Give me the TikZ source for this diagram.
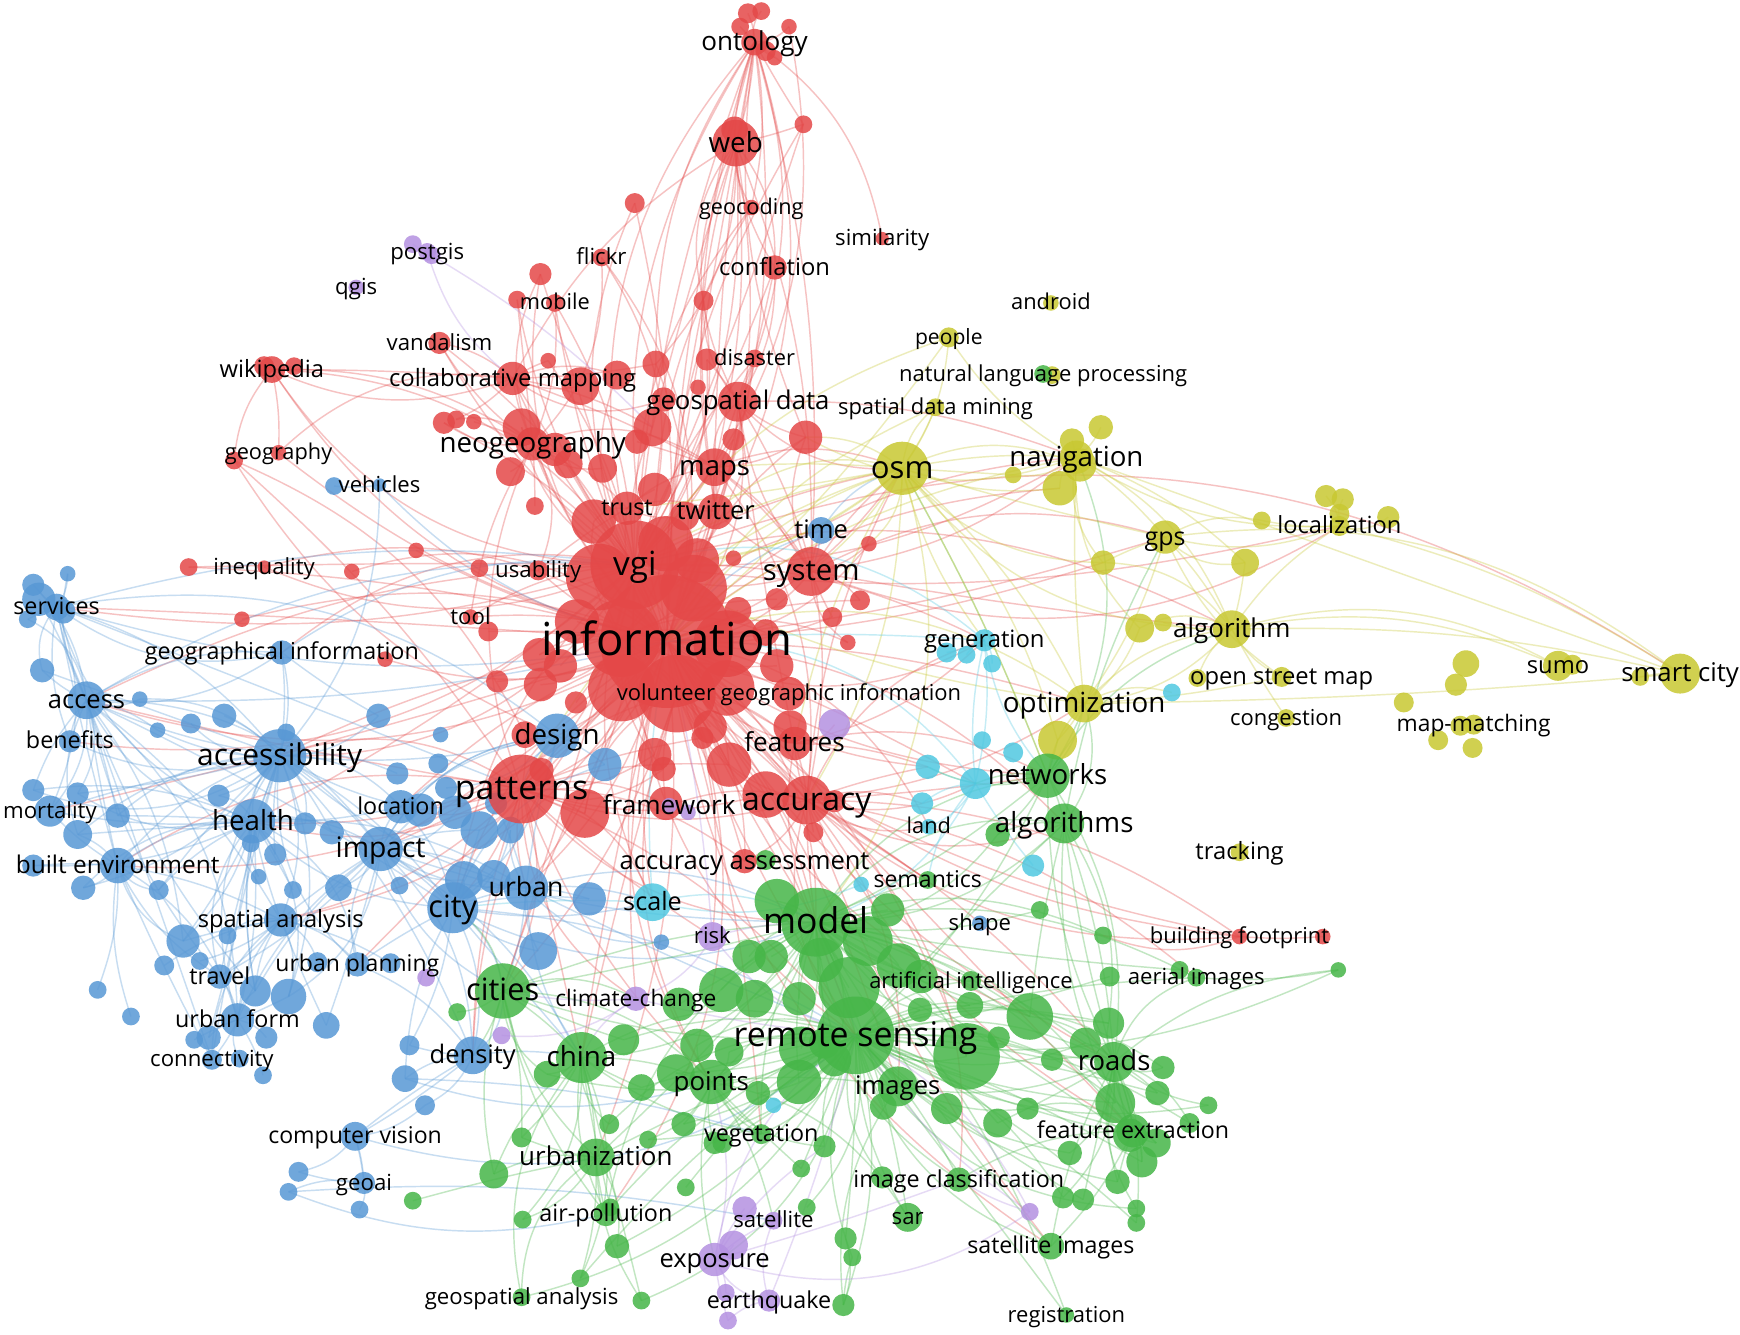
\documentclass[tikz,border=0pt]{standalone}
\usepackage{fontspec}
\setmainfont{Open Sans}
\definecolor{colR}{RGB}{228,72,72}
\definecolor{colB}{RGB}{88,152,213}
\definecolor{colG}{RGB}{70,182,72}
\definecolor{colY}{RGB}{200,200,50}
\definecolor{colP}{RGB}{180,145,225}
\definecolor{colC}{RGB}{80,200,225}
\pgfdeclarelayer{bg}\pgfdeclarelayer{edges}\pgfdeclarelayer{labels}
\pgfsetlayers{bg,edges,main,labels}
\tikzset{
 bub/.style={circle,inner sep=0pt,outer sep=0pt,draw=none,fill opacity=0.85},
 cR/.style={fill=colR}, cB/.style={fill=colB}, cG/.style={fill=colG},
 cY/.style={fill=colY}, cP/.style={fill=colP}, cC/.style={fill=colC},
 lab/.style={inner sep=0pt,outer sep=0pt,text=black},
 edg/.style={line width=1.3pt,draw opacity=0.33},
 eR/.style={edg,draw=colR}, eB/.style={edg,draw=colB}, eG/.style={edg,draw=colG},
 eY/.style={edg,draw=colY}, eP/.style={edg,draw=colP}, eC/.style={edg,draw=colC}
}
\newcommand\Kw[7]{\node[bub,#5,minimum size=#4pt] (#1) at (#2,#3) {};%
 \begin{pgfonlayer}{labels}\node[lab,font=\fontsize{#6}{#6}\selectfont,text height={0.72*#6pt},text depth={0.24*#6pt},yshift={-0.08*#6pt}] (#1T) at (#2,#3) {#7};\end{pgfonlayer}}
\newcommand\Fan[3]{\foreach \tgt [count=\ii] in {#3}{\pgfmathtruncatemacro\bnd{mod(\ii*37,61)-30}\draw[#2] (#1.center) to[bend left=\bnd] (\tgt.center);}}
\begin{document}
\begin{tikzpicture}[x=1pt,y=-1pt]
\begin{pgfonlayer}{bg}\fill[white] (0,0) rectangle (1568,1203);\end{pgfonlayer}
\useasboundingbox (0,0) rectangle (1568,1203);
% ---------- unlabeled bubbles ----------
\foreach \n/\x/\y/\d in {r1/674/12/18,r2/686/10/16,r3/667/24/16,r4/711/24/14,r5/690/46/18,r6/698/52/14,r7/724/112/16,r8/662/117/24,r9/572/183/18,r10/487/247/20,r11/634/271/18,r12/466/270/16,r13/494/325/14,r14/523/348/34,r15/556/338/26,r16/591/328/24,r17/637/324/20,r18/629/349/14,r19/598/360/22,r20/588/385/34,r21/726/394/30,r22/238/330/18,r23/265/330/16,r24/211/415/16,r25/400/381/20,r26/427/380/14,r27/411/378/16,r28/470/385/34,r29/500/405/30,r30/460/425/26,r31/512/418/26,r32/543/422/26,r33/574/398/22,r34/661/396/20,r35/482/456/16,r36/590/441/30,r37/617/465/26,r38/540/520/60,r39/625/530/60,r40/560/575/70,r41/655/580/60,r42/610/625/70,r43/560/620/60,r44/655/620/50,r45/600/490/50,r46/535/470/40,r47/628/505/40,r48/783/490/14,r49/775/541/18,r50/750/556/18,r51/764/579/14,r52/170/511/16,r53/317/515/14,r54/375/496/14,r55/218/558/14,r56/347/594/14,r57/440/569/18,r58/486/590/30,r59/448/614/20,r60/487/617/30,r61/519/633/20,r62/473/662/24,r63/488/694/22,r64/527/733/44,r65/598/693/22,r66/657/689/40,r67/690/716/42,r68/752/722/20,r69/733/750/18,r71/665/550/24,r72/661/503/14,r73/633/665/20,r74/1192/844/14,r75/600/724/30,r76/432/512/16,r77/712/655/30,r78/590/680/30,r79/640/655/30,r80/700/600/30,r81/690/570/24,r82/520/560/40,r83/505/600/30,r84/700/540/20}
 {\node[bub,cR,minimum size=\d pt] (\n) at (\x,\y) {};}
\foreach \n/\x/\y/\d in {b1/301/438/16,b2/30/527/20,b3/61/517/14,b4/35/540/30,b5/25/558/16,b6/38/604/22,b7/126/630/14,b8/142/658/14,b9/202/645/22,b10/172/652/18,b11/258/660/16,b12/341/645/22,b13/397/662/14,b14/358/697/20,b15/395/688/18,b16/379/730/30,b17/410/732/30,b18/432/748/34,b19/460/748/24,b20/447/724/20,b21/30/712/20,b22/70/715/20,b23/106/735/22,b24/197/717/20,b25/248/770/20,b26/275/742/20,b27/299/750/22,b28/305/800/24,b29/360/798/16,b30/70/752/26,b31/75/800/22,b32/30/780/20,b33/143/802/18,b34/226/760/16,b35/264/802/16,b36/233/790/14,b37/418/793/34,b38/531/810/30,b39/485/857/34,b40/445/790/30,b41/165/848/30,b42/205/843/16,b43/352/868/18,b44/230/893/28,b45/260/898/32,b46/88/892/16,b47/118/916/16,b48/188/935/22,b49/240/935/20,b50/294/924/24,b51/175/937/16,b52/216/954/16,b53/237/969/16,b54/369/942/18,b55/365/972/24,b56/383/996/18,b57/269/1056/18,b58/260/1074/16,b59/324/1090/16,b60/596/849/14,b61/545/689/30,b63/402/710/20,b65/57/551/22,b66/180/866/16,b67/148/870/18,b68/286/867/18}
 {\node[bub,cB,minimum size=\d pt] (\n) at (\x,\y) {};}
\foreach \n/\x/\y/\d in {g1/700/812/40,g2/782/848/45,g3/765/890/55,g4/740/865/40,g5/695/862/30,g6/720/900/30,g7/871/952/60,g8/874/906/24,g9/829/910/22,g10/928/916/42,g11/900/935/20,g12/978/940/28,g13/999/922/28,g14/1005/994/36,g15/1048/962/21,g16/1043/985/22,g17/1089/996/16,g18/1072/1012/18,g19/1018/1023/30,g20/1042/1030/26,g21/1029/1047/28,g22/1007/1065/22,g23/958/1079/20,g24/976/1081/20,g25/1024/1089/16,g26/1024/1102/16,g27/994/843/16,g28/1206/874/14,g29/650/892/40,g30/680/900/34,g31/612/905/30,g32/675/862/30,g33/412/912/16,g35/562/937/28,g36/493/968/24,g37/578/980/24,g38/628/942/30,g39/609/967/34,g40/657/948/26,g41/722/945/40,g42/720/975/40,g43/683/985/22,g44/752/955/30,g45/743/940/28,g46/796/997/24,g47/549/1013/18,g48/616/1013/22,g49/644/1030/20,g50/584/1027/16,g51/722/1053/16,g52/743/1033/20,g53/470/1025/18,g54/445/1058/26,g55/471/1099/16,g56/550/1088/16,g57/556/1123/22,g58/618/1070/16,g59/727/1088/16,g60/762/1116/20,g61/768/1133/16,g62/760/1176/20,g63/523/1152/16,g64/578/1172/16,g65/372/1082/16,g66/1063/874/16,g67/899/752/22,g68/690/775/18,g69/937/820/16,g72/948/955/20,g73/964/1039/22,g74/899/1012/26,g75/853/999/28,g76/926/999/20,g77/1000/880/18,g78/795/1061/20,g79/651/1030/18,g80/810/870/40,g81/800/820/30,g82/830/880/30}
 {\node[bub,cG,minimum size=\d pt] (\n) at (\x,\y) {};}
\foreach \n/\x/\y/\d in {y2/955/440/31,y3/973/419/30,y4/992/385/22,y5/913/428/15,y6/966/397/22,y7/948/338/16,y8/994/507/22,y9/1137/469/16,y10/1195/447/20,y11/1210/450/20,y12/1207/463/18,y13/1251/466/20,y14/1122/507/25,y15/1027/566/26,y16/1048/561/16,y17/1079/611/16,y18/953/667/35,y19/1321/598/24,y20/1312/617/20,y21/1265/633/18,y22/1316/654/18,y23/1296/667/18,y24/1327/674/18,y25/1417/599/18,y26/1478/610/16}
 {\node[bub,cY,minimum size=\d pt] (\n) at (\x,\y) {};}
\foreach \n/\x/\y/\d in {c1/853/588/18,c2/871/590/16,c3/894/598/16,c4/1056/624/16,c5/885/667/16,c6/913/678/18,c7/836/691/22,c8/879/706/28,c9/831/724/20,c10/931/780/20,c11/776/797/14,c12/697/996/14}
 {\node[bub,cC,minimum size=\d pt] (\n) at (\x,\y) {};}
\foreach \n/\x/\y/\d in {p1/389/230/16,p2/752/653/28,p3/620/732/14,p4/384/881/16,p5/452/933/16,p6/671/1089/22,p7/661/1122/26,p8/654/1165/16,p9/656/1190/16,p10/928/1092/16,p11/372/220/16}
 {\node[bub,cP,minimum size=\d pt] (\n) at (\x,\y) {};}
% ---------- labeled keywords ----------
\Kw{ontology}{680}{38}{24}{cR}{23.5}{ontology}
\Kw{web}{663}{129}{42}{cR}{25}{web}
\Kw{geocoding}{677}{187}{14}{cR}{19.5}{geocoding}
\Kw{similarity}{795}{215}{12}{cR}{20}{similarity}
\Kw{flickr}{542}{232}{16}{cR}{20}{flickr}
\Kw{conflation}{698}{241}{22}{cR}{21.4}{conflation}
\Kw{mobile}{500}{273}{16}{cR}{19.6}{mobile}
\Kw{vandalism}{396}{309}{20}{cR}{20}{vandalism}
\Kw{wikipedia}{245}{333}{24}{cR}{21.4}{wikipedia}
\Kw{collab}{462}{341}{30}{cR}{21.5}{collaborative mapping}
\Kw{disaster}{680}{323}{16}{cR}{19.7}{disaster}
\Kw{geodata}{665}{362}{36}{cR}{23.2}{geospatial data}
\Kw{neogeo}{480}{400}{30}{cR}{25}{neogeography}
\Kw{geography}{251}{408}{14}{cR}{19.6}{geography}
\Kw{maps}{644}{421}{34}{cR}{24.8}{maps}
\Kw{trust}{565}{458}{30}{cR}{21}{trust}
\Kw{twitter}{645}{461}{32}{cR}{23}{twitter}
\Kw{vgi}{572}{509}{80}{cR}{30}{vgi}
\Kw{usability}{485}{514}{18}{cR}{20}{usability}
\Kw{system}{731}{515}{44}{cR}{26.4}{system}
\Kw{inequality}{238}{511}{12}{cR}{20}{inequality}
\Kw{tool}{424}{556}{14}{cR}{20}{tool}
\Kw{information}{601}{578}{120}{cR}{41}{information}
\Kw{vgiinfo}{711}{625}{30}{cR}{19.8}{volunteer geographic information}
\Kw{design}{502}{663}{40}{cB}{25}{design}
\Kw{features}{716}{670}{30}{cR}{23.5}{features}
\Kw{patterns}{470}{711}{62}{cR}{30.5}{patterns}
\Kw{framework}{603}{726}{14}{cP}{23.6}{framework}
\Kw{accuracy}{727}{721}{44}{cR}{28.8}{accuracy}
\Kw{accassess}{671}{776}{22}{cR}{23}{accuracy assessment}
\Kw{footprint}{1117}{844}{14}{cR}{19.8}{building footprint}
\Kw{android}{947}{273}{14}{cY}{19.7}{android}
\Kw{people}{855}{304}{18}{cY}{19}{people}
\Kw{nlp}{940}{337}{16}{cG}{19.8}{natural language processing}
\Kw{sdm}{843}{367}{16}{cY}{19.8}{spatial data mining}
\Kw{osm}{813}{422}{48}{cY}{28}{osm}
\Kw{navigation}{970}{412}{30}{cY}{24.9}{navigation}
\Kw{gps}{1050}{484}{30}{cY}{22.5}{gps}
\Kw{localization}{1207}{474}{18}{cY}{21.3}{localization}
\Kw{algorithm}{1110}{567}{34}{cY}{23.4}{algorithm}
\Kw{sumo}{1404}{600}{27}{cY}{21.4}{sumo}
\Kw{smartcity}{1514}{607}{36}{cY}{23.2}{smart city}
\Kw{osmap}{1155}{610}{18}{cY}{21.4}{open street map}
\Kw{optimization}{977}{634}{34}{cY}{25}{optimization}
\Kw{congestion}{1159}{647}{16}{cY}{19.8}{congestion}
\Kw{mapmatching}{1328}{653}{18}{cY}{20.5}{map-matching}
\Kw{tracking}{1117}{768}{16}{cY}{21.4}{tracking}
\Kw{generation}{887}{577}{20}{cC}{21.5}{generation}
\Kw{land}{837}{745}{14}{cC}{19.6}{land}
\Kw{semantics}{836}{793}{16}{cG}{20.8}{semantics}
\Kw{scale}{588}{813}{34}{cC}{22.7}{scale}
\Kw{time}{740}{478}{24}{cB}{23}{time}
\Kw{networks}{944}{699}{40}{cG}{24.9}{networks}
\Kw{algorithms}{959}{742}{36}{cG}{25}{algorithms}
\Kw{model}{735}{831}{62}{cG}{32}{model}
\Kw{shape}{883}{832}{14}{cB}{19.9}{shape}
\Kw{ai}{875}{884}{18}{cG}{19.8}{artificial intelligence}
\Kw{aerial}{1078}{881}{16}{cG}{20}{aerial images}
\Kw{cities}{453}{893}{50}{cG}{27.7}{cities}
\Kw{climate}{573}{900}{22}{cP}{20.5}{climate-change}
\Kw{rs}{771}{933}{70}{cG}{30.5}{remote sensing}
\Kw{china}{524}{953}{46}{cG}{25}{china}
\Kw{roads}{1004}{957}{36}{cG}{24.8}{roads}
\Kw{points}{641}{975}{40}{cG}{23.3}{points}
\Kw{images}{809}{979}{36}{cG}{23.1}{images}
\Kw{vegetation}{686}{1022}{18}{cG}{21}{vegetation}
\Kw{featext}{1021}{1019}{30}{cG}{20.9}{feature extraction}
\Kw{urbanization}{537}{1043}{34}{cG}{23.4}{urbanization}
\Kw{imgclass}{864}{1063}{22}{cG}{21}{image classification}
\Kw{airpol}{546}{1094}{22}{cG}{21}{air-pollution}
\Kw{sar}{818}{1097}{26}{cG}{20}{sar}
\Kw{satellite}{697}{1100}{16}{cP}{20}{satellite}
\Kw{exposure}{644}{1135}{30}{cP}{23}{exposure}
\Kw{satimg}{947}{1123}{24}{cG}{20.9}{satellite images}
\Kw{geoanalysis}{470}{1169}{16}{cG}{20}{geospatial analysis}
\Kw{earthquake}{693}{1172}{20}{cP}{21}{earthquake}
\Kw{registration}{961}{1185}{14}{cG}{19.8}{registration}
\Kw{risk}{642}{844}{26}{cP}{20}{risk}
\Kw{vehicles}{342}{437}{12}{cB}{19.9}{vehicles}
\Kw{services}{51}{547}{24}{cB}{21}{services}
\Kw{geoinfo}{254}{588}{22}{cB}{21}{geographical information}
\Kw{access}{78}{631}{34}{cB}{23}{access}
\Kw{benefits}{63}{668}{20}{cB}{21}{benefits}
\Kw{accessibility}{252}{681}{48}{cB}{27}{accessibility}
\Kw{location}{361}{727}{30}{cB}{21}{location}
\Kw{mortality}{45}{731}{28}{cB}{20}{mortality}
\Kw{health}{228}{740}{40}{cB}{25}{health}
\Kw{impact}{343}{765}{40}{cB}{25.5}{impact}
\Kw{builtenv}{106}{780}{32}{cB}{22}{built environment}
\Kw{urban}{474}{800}{40}{cB}{24}{urban}
\Kw{city}{408}{818}{46}{cB}{27.7}{city}
\Kw{spanalysis}{253}{829}{30}{cB}{21.3}{spatial analysis}
\Kw{urbplan}{322}{869}{22}{cB}{20.7}{urban planning}
\Kw{travel}{198}{880}{22}{cB}{21}{travel}
\Kw{urbform}{214}{919}{30}{cB}{21}{urban form}
\Kw{connectivity}{191}{955}{18}{cB}{20}{connectivity}
\Kw{density}{426}{951}{34}{cB}{23}{density}
\Kw{compvision}{320}{1024}{26}{cB}{20.8}{computer vision}
\Kw{geoai}{328}{1066}{20}{cB}{20}{geoai}
\Kw{postgis}{385}{227}{16}{cP}{20}{postgis}
\Kw{qgis}{321}{259}{14}{cP}{20}{qgis}
% ---------- connectors ----------
\begin{pgfonlayer}{edges}
\Fan{information}{eR}{ontology,web,geocoding,conflation,flickr,mobile,vandalism,wikipedia,collab,geodata,neogeo,maps,trust,twitter,system,usability,tool,patterns,accuracy,features,design,accessibility,health,impact,city,urban,cities,model,rs,osm,navigation,gps,generation,optimization,networks,algorithms,china,points,images,roads,access,services,inequality,geography,scale,spanalysis,urbplan,density,risk,climate,time,accassess,footprint,r7,r9,r10,r11,r16,r21,r52,r53,r54,r55,r56,r57,r58,r59,r64,r66,r67,r48,r49,r50,r51,featext,satimg,urbanization,location,builtenv,mortality,g10,g7,semantics,land,c8,c7,y2,y8,airpol,vegetation}
\Fan{vgi}{eR}{ontology,web,geocoding,conflation,flickr,collab,geodata,neogeo,maps,wikipedia,vandalism,mobile,r9,r10,r11,r12,r13,r15,r16,r17,r20,r25,r28,r31,system,patterns,accuracy,accessibility,health,city,urban,model,rs,osm,navigation,algorithm,r7,r4,disaster,tool,inequality,r52,geoinfo,services,access,benefits,cities,scale,generation,localization,smartcity}
\Fan{ontology}{eR}{web,r16,geodata,maps,vgi,system,r21,similarity,r7,conflation,geocoding,twitter,r47,r45,information,r39,r1,r2,r3,r4,r5,r6}
\Fan{web}{eR}{r8,geocoding,conflation,r7,geodata,maps,collab,r16,r20,r11,system,twitter}
\Fan{geodata}{eR}{disaster,conflation,r11,r17,maps,twitter,system,accuracy,features,osm,navigation,r21}
\Fan{maps}{eR}{twitter,trust,osm,collab,neogeo,system,r21,accuracy,r33}
\Fan{neogeo}{eR}{collab,wikipedia,r25,r26,r27,r28,r29,r30,r31,r32,vandalism,mobile,r10,r12,flickr,trust,tool,usability,r35,patterns}
\Fan{collab}{eR}{r13,r14,r15,r16,r19,r20,vandalism,r22,wikipedia,geography,r27}
\Fan{wikipedia}{eR}{geography,r24,r22,r23,vgi}
\Fan{r24}{eR}{patterns,design,r62}
\Fan{patterns}{eR}{design,accuracy,framework,r64,r65,r66,r67,health,impact,accessibility,city,urban,cities,china,model,rs,points,location,access,builtenv,spanalysis,density,scale,b16,b17,b18,r62,r63,r73,r78,accassess,risk,climate}
\Fan{accuracy}{eR}{features,framework,accassess,model,rs,roads,featext,images,networks,algorithms,osm,optimization,generation,semantics,land,r66,r67,r68,r69,footprint,aerial,satimg,imgclass,c7,c8,c9}
\Fan{system}{eR}{time,r48,r49,r50,r51,osm,navigation,gps,algorithm,localization,twitter,maps,r21}
\Fan{trust}{eR}{r36,r37,twitter,usability,r46}
\Fan{twitter}{eR}{maps,r37,r34,disaster,r47}
\Fan{features}{eR}{accuracy,model,networks,r77,p2,c7,generation}
\Fan{footprint}{eR}{r68,accuracy,g27,r74}
\Fan{r40}{eR}{r38,r39,r41,r42,r43,r44,r45,r46,r47,r71,r79,r80,r81,r82,r83,r84,r58,r60,r61,r65,r73,r78}
\Fan{r42}{eR}{accuracy,patterns,model,rs,r64,r66,r67,features,china,points,cities,r75,accassess}
\Fan{accessibility}{eB}{access,services,benefits,mortality,health,impact,builtenv,spanalysis,travel,urbform,city,urban,location,b6,b7,b8,b9,b10,b11,b12,b14,b16,b21,b22,b23,b24,b25,b26,b27,b30,b31,b33,b34,b41,b44,b45,connectivity,urbplan,density,geoinfo}
\Fan{access}{eB}{services,b2,b3,b4,b5,b6,benefits,mortality,builtenv,health,spanalysis,travel,urbform,connectivity,b7,b8,b21,b22,b23,b30,b41,b44,impact,city,geoinfo,vgi,information}
\Fan{services}{eB}{b2,b3,b4,b5,b6,b65,benefits,mortality,builtenv,health,vgi,information,design,patterns,geoinfo}
\Fan{health}{eB}{mortality,builtenv,impact,spanalysis,travel,urbform,b21,b22,b23,b24,b25,b26,b27,b30,b31,b32,b33,b34,b35,b36,b41,b44,b45,b48,city,urban,location,urbplan}
\Fan{impact}{eB}{city,urban,location,spanalysis,urbplan,travel,urbform,density,b16,b17,b18,b27,b28,b29,b37,b40,b44,b45,b50,cities,china,model,design}
\Fan{city}{eB}{urban,location,density,urbplan,b37,b38,b39,b40,b18,b19,b54,b55,cities,china,model,rs,scale,b61}
\Fan{builtenv}{eB}{mortality,b30,b31,b32,b33,spanalysis,travel,urbform,connectivity,b41,b46,b47}
\Fan{spanalysis}{eB}{travel,urbform,urbplan,b41,b42,b43,b44,b45,b50,connectivity,b66,b67,b68}
\Fan{urbform}{eB}{connectivity,b48,b49,b51,b52,b53,travel,b44,b45}
\Fan{density}{eB}{b54,b55,b56,compvision,cities,china,urbplan}
\Fan{compvision}{eB}{geoai,b56,b57,density,rs}
\Fan{geoai}{eB}{b57,b58,b59,compvision}
\Fan{b58}{eB}{satellite,airpol}
\Fan{b55}{eB}{vegetation,points}
\Fan{vehicles}{eB}{b1,information,accessibility}
\Fan{geoinfo}{eB}{accessibility,access,vgi,b12}
\Fan{design}{eB}{b61,patterns,city,urban,impact,accessibility,location,b63}
\Fan{time}{eB}{system,information,osm}
\Fan{urban}{eB}{b38,b39,b19,b20,city,cities,china,model,rs,b60,scale}
\Fan{model}{eG}{rs,g1,g2,g3,g4,g5,g6,g7,g8,g9,g10,g29,g30,g31,g32,g41,g42,g44,g45,images,points,cities,china,urbanization,roads,featext,networks,algorithms,semantics,ai,aerial,satimg,imgclass,sar,vegetation,g27,g66,g67,g12,g13,g14,g19,airpol,registration,g69,g80,g81,g82}
\Fan{rs}{eG}{images,points,roads,featext,satimg,imgclass,sar,vegetation,urbanization,china,cities,airpol,geoanalysis,registration,g7,g8,g9,g10,g11,g12,g13,g14,g15,g16,g17,g18,g19,g20,g21,g22,g23,g24,g25,g26,g35,g36,g37,g38,g39,g40,g43,g46,g47,g48,g49,g50,g51,g52,g57,g58,g59,g60,g61,g62,g63,g64,g72,g73,g74,g75,g76,aerial,g28,ai,g77,g78,g79}
\Fan{roads}{eG}{featext,g12,g13,g14,g15,g16,g17,g18,g19,g20,g21,g22,g23,g24,g25,g26,g72,g73,g74,g10,images,satimg,aerial,algorithms,networks}
\Fan{cities}{eG}{china,urbanization,g33,g35,g36,g53,g54,points,model,city,density,airpol,climate}
\Fan{china}{eG}{urbanization,airpol,g36,g37,g47,g53,g54,g55,g56,geoanalysis,points,vegetation,g63,g64}
\Fan{points}{eG}{images,vegetation,g38,g39,g40,g48,g49,g50,g51,g52,satellite,exposure,sar}
\Fan{networks}{eG}{algorithms,optimization,algorithm,osm,navigation,g67,c8,c7,y18,model,rs,roads}
\Fan{algorithms}{eG}{roads,featext,g13,g10,optimization,gps,g67,model,rs}
\Fan{urbanization}{eG}{g53,g54,g55,airpol,geoanalysis,g63,g64,g57,g65}
\Fan{g62}{eG}{g61,g60,images}
\Fan{featext}{eG}{g19,g20,g21,g22,g76,satimg,imgclass}
\Fan{g28}{eG}{aerial,roads}
\Fan{osm}{eY}{navigation,information,vgi,maps,twitter,system,people,sdm,gps,algorithm,optimization,y2,y3,y5,y8,y18,generation,r48,trust,patterns,accuracy,features,model,networks,r21,r47,r45}
\Fan{navigation}{eY}{gps,localization,algorithm,optimization,y2,y3,y4,y5,y6,y8,y14,information,r21,smartcity,y15,people}
\Fan{gps}{eY}{algorithm,localization,y9,y8,y14,optimization,osmap,smartcity}
\Fan{algorithm}{eY}{smartcity,osmap,optimization,y14,y15,y16,y17,sumo,congestion,y8,localization}
\Fan{optimization}{eY}{y18,networks,algorithm,osmap,information,vgi,y15,c4,smartcity}
\Fan{localization}{eY}{y9,y10,y11,y12,y13,smartcity}
\Fan{people}{eY}{information,vgi}
\Fan{sdm}{eY}{osm,information}
\Fan{y26}{eY}{smartcity}
\Fan{sumo}{eY}{y25,algorithm}
\Fan{generation}{eC}{c1,c2,c3,information,vgi,c8,networks}
\Fan{c8}{eC}{c7,c9,land,c10,information,generation,semantics,model}
\Fan{scale}{eC}{information,c11,model,city}
\Fan{p1}{eP}{r20}
\Fan{postgis}{eP}{p11,collab}
\Fan{exposure}{eP}{p6,p7,p8,p9,earthquake,satellite,points,rs,imgclass,p10,g52}
\Fan{earthquake}{eP}{p8,p9,satellite,rs}
\Fan{p10}{eP}{imgclass,rs,model}
\Fan{risk}{eP}{model,rs,climate,information}
\Fan{climate}{eP}{cities,china,p5,rs}
\end{pgfonlayer}
\end{tikzpicture}
\end{document}
